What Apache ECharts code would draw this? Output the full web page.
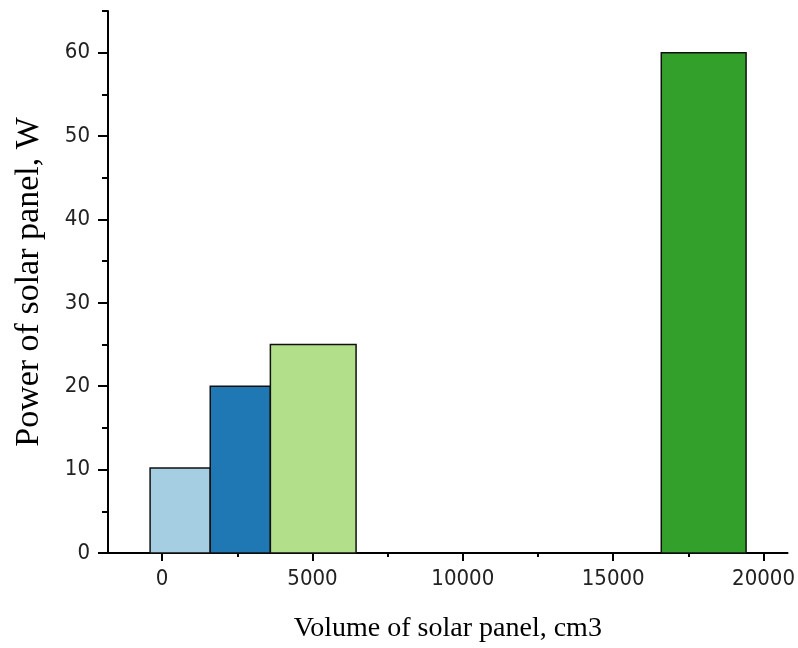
<!DOCTYPE html>
<html>
<head>
<meta charset="utf-8">
<script src="https://cdn.jsdelivr.net/npm/echarts@6/dist/echarts.min.js"></script>
<style>
  html, body { margin: 0; padding: 0; background: #fff; overflow: hidden; }
  #chart { width: 798px; height: 648px; }
</style>
</head>
<body>
<div id="chart"></div>
<script>
// bar data: left / right edge on the volume axis, height = power
var volStart = [-400, 1600, 3600, 16600];
var volEnd = [1600, 3600, 6450, 19420];
var power = [10.2, 20, 25, 60];
var barColors = ['#a6cee3', '#1f78b4', '#b2df8a', '#33a02c'];

// tick positions
var xMajor = [0, 5000, 10000, 15000, 20000];
var xMinor = [2500, 7500, 12500, 17500];
var yMajor = [0, 10, 20, 30, 40, 50, 60];
var yMinor = [5, 15, 25, 35, 45, 55, 65];

var chart = echarts.init(document.getElementById('chart'));

var labelFont = '"Liberation Sans Narrow", "DejaVu Sans Condensed", sans-serif';
var titleFont = '"Liberation Serif", serif';

var bars = [];
for (var i = 0; i < power.length; i++) {
	bars.push([volStart[i], volEnd[i], power[i], i]);
}

function plain(v) { return String(v); }

var option = {
	animation: false,
	grid: { left: 108, right: 8, top: 11, bottom: 86, containLabel: false },
	xAxis: [
		{
			type: 'value', min: -1800, max: 20800,
			name: 'Volume of solar panel, cm3',
			nameLocation: 'middle', nameGap: 62,
			nameTextStyle: { fontFamily: titleFont, fontSize: 28, color: '#000' },
			axisLine: { show: true, onZero: false, lineStyle: { color: '#000', width: 2 } },
			axisTick: { show: true, customValues: xMajor, length: 8, lineStyle: { color: '#000', width: 2 } },
			axisLabel: { customValues: xMajor, formatter: plain, fontFamily: labelFont, fontSize: 22, color: '#222', margin: 15 },
			splitLine: { show: false }
		},
		{
			type: 'value', min: -1800, max: 20800, position: 'bottom',
			axisLine: { show: false, onZero: false },
			axisTick: { show: true, customValues: xMinor, length: 4, lineStyle: { color: '#000', width: 2 } },
			axisLabel: { show: false },
			splitLine: { show: false }
		}
	],
	yAxis: [
		{
			type: 'value', min: 0, max: 65,
			name: 'Power of solar panel, W',
			nameLocation: 'middle', nameGap: 62, nameRotate: 90,
			nameTextStyle: { fontFamily: titleFont, fontSize: 34, color: '#000' },
			axisLine: { show: true, onZero: false, lineStyle: { color: '#000', width: 2 } },
			axisTick: { show: true, customValues: yMajor, length: 10, lineStyle: { color: '#000', width: 2 } },
			axisLabel: { customValues: yMajor, formatter: plain, fontFamily: labelFont, fontSize: 22, color: '#222', margin: 18 },
			splitLine: { show: false }
		},
		{
			type: 'value', min: 0, max: 65, position: 'left',
			axisLine: { show: false, onZero: false },
			axisTick: { show: true, customValues: yMinor, length: 6, lineStyle: { color: '#000', width: 2 } },
			axisLabel: { show: false },
			splitLine: { show: false }
		}
	],
	series: [{
		type: 'custom',
		xAxisIndex: 0,
		yAxisIndex: 0,
		encode: { x: [0, 1], y: 2 },
		data: bars,
		renderItem: function (params, api) {
			var p0 = api.coord([api.value(0), api.value(2)]);
			var p1 = api.coord([api.value(1), 0]);
			return {
				type: 'rect',
				shape: { x: p0[0], y: p0[1], width: p1[0] - p0[0], height: p1[1] - p0[1] },
				style: { fill: barColors[api.value(3)], stroke: '#111', lineWidth: 1.5 }
			};
		}
	}]
};
chart.setOption(option);
</script>
</body>
</html>
